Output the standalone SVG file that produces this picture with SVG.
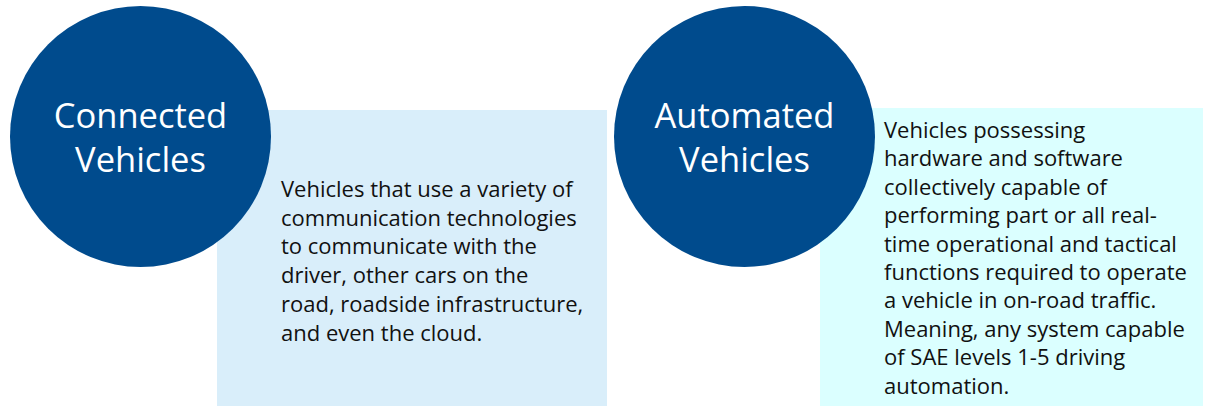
<svg xmlns="http://www.w3.org/2000/svg" width="1206" height="406" viewBox="0 0 1206 406">
<style>
.circ{fill:#004B8D}
.title{font-family:"Open Sans","Noto Sans",sans-serif;font-size:34.5px;fill:#ffffff;text-anchor:middle}
.body{font-family:"Open Sans","Noto Sans",sans-serif;font-size:22px;fill:#111111}
</style>
<rect width="1206" height="406" fill="#ffffff"/>
<g id="box-connected">
<rect x="217" y="110" width="390" height="296" fill="#D9EEFA"/>
<text class="body" x="281">
<tspan x="281" y="197">Vehicles that use a variety of</tspan>
<tspan x="281" y="225.7">communication technologies</tspan>
<tspan x="281" y="254.4">to communicate with the</tspan>
<tspan x="281" y="283.1">driver, other cars on the</tspan>
<tspan x="281" y="311.8">road, roadside infrastructure,</tspan>
<tspan x="281" y="340.5">and even the cloud.</tspan>
</text>
</g>
<g id="box-automated">
<rect x="820" y="108" width="383" height="298" fill="#DBFFFF"/>
<text class="body" x="884">
<tspan x="884" y="138">Vehicles possessing</tspan>
<tspan x="884" y="166.4">hardware and software</tspan>
<tspan x="884" y="194.8">collectively capable of</tspan>
<tspan x="884" y="223.2">performing part or all real-</tspan>
<tspan x="884" y="251.6">time operational and tactical</tspan>
<tspan x="884" y="280">functions required to operate</tspan>
<tspan x="884" y="308.4">a vehicle in on-road traffic.</tspan>
<tspan x="884" y="336.8">Meaning, any system capable</tspan>
<tspan x="884" y="365.2">of SAE levels 1-5 driving</tspan>
<tspan x="884" y="393.6">automation.</tspan>
</text>
</g>
<g id="node-connected">
<circle class="circ" cx="140.5" cy="136.5" r="130.5"/>
<text class="title" x="140.5" y="128">Connected</text>
<text class="title" x="140.5" y="172">Vehicles</text>
</g>
<g id="node-automated">
<circle class="circ" cx="744.5" cy="136.5" r="130.5"/>
<text class="title" x="744.5" y="128">Automated</text>
<text class="title" x="744.5" y="172">Vehicles</text>
</g>
<g id="connectors"></g>
</svg>
